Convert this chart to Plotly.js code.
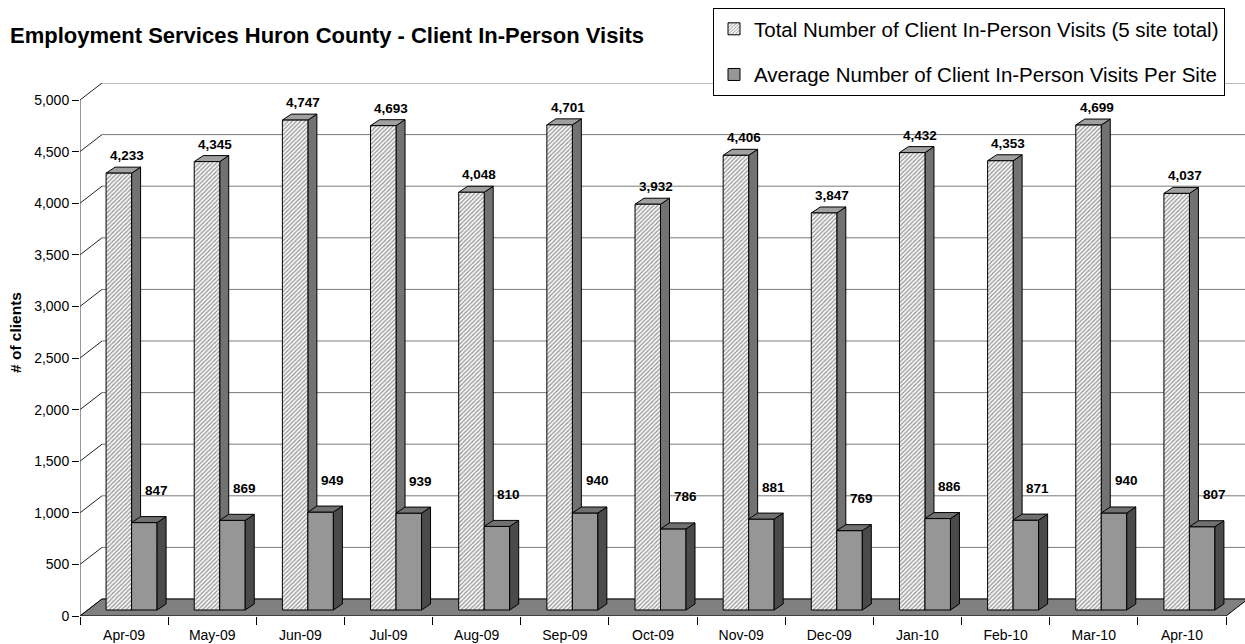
<!DOCTYPE html>
<html><head><meta charset="utf-8">
<script src="https://cdn.plot.ly/plotly-3.0.1.min.js"></script>
<style>html,body{margin:0;padding:0;background:#fff;}#chart{width:1245px;height:644px;}</style>
</head><body><div id="chart"></div>
<script>
const months = ['Apr-09','May-09','Jun-09','Jul-09','Aug-09','Sep-09','Oct-09','Nov-09','Dec-09','Jan-10','Feb-10','Mar-10','Apr-10'];
const totalVisits = [4233,4345,4747,4693,4048,4701,3932,4406,3847,4432,4353,4699,4037];
const avgVisits = [847,869,949,939,810,940,786,881,769,886,871,940,807];
const yTicks = [0,500,1000,1500,2000,2500,3000,3500,4000,4500,5000];
const seriesNames = ['Total Number of Client In-Person Visits (5 site total)','Average Number of Client In-Person Visits Per Site'];
const chartTitle = 'Employment Services Huron County - Client In-Person Visits';
const yTitle = '# of clients';

// ---- layout geometry (pixels) ----
const W = 1245, H = 644, ML = 80, MR = 0, MT = 83, MB = 28;
const FRONT_W = 1146, FRONT_H = 516;
const n = months.length;
const yTop = yTicks[yTicks.length - 1];
const cw = FRONT_W / n;
const ppu = FRONT_H / yTop;
const xMax = -0.5 + (W - ML - MR) / cw;
const yMax = (H - MT - MB) / ppu;
const px2x = p => p / cw, px2y = p => p / ppu;
const BACK_DX = px2x(22), BACK_DY = px2y(17);
const PLANE_DX = px2x(7.5), PLANE_DY = px2y(6);
const DEP_DX = px2x(9), DEP_DY = px2y(6);
const BAR_W = px2x(25.5);
const FONT = 'Liberation Sans, Arial, sans-serif';
const fmt = v => v.toLocaleString('en-US');
const idx = months.map((_, i) => i);
const bounds = idx.map(i => i - 0.5).concat([n - 0.5]);

const shapes = [];
// back wall gridlines and left wall diagonals
yTicks.forEach(v => {
  shapes.push({type:'line', xref:'x', yref:'y', layer:'below', x0:-0.5+BACK_DX, x1:xMax, y0:v+BACK_DY, y1:v+BACK_DY, line:{color:'#7a7a7a', width:1}});
  shapes.push({type:'line', xref:'x', yref:'y', layer:'below', x0:-0.5, x1:-0.5+BACK_DX, y0:v, y1:v+BACK_DY, line:{color:'#222', width:1}});
});
// floor
shapes.push({type:'path', xref:'x', yref:'y', layer:'below',
  path:`M${-0.5},0 L${n-0.5},0 L${n-0.5+BACK_DX},${BACK_DY} L${-0.5+BACK_DX},${BACK_DY} Z`,
  fillcolor:'#808080', line:{color:'#000', width:1}});
// front vertical axis line
shapes.push({type:'line', xref:'x', yref:'y', layer:'below', x0:-0.5, x1:-0.5, y0:0, y1:yTop, line:{color:'#555', width:1.2}});

function faces(vals, offset, sideColor, topColor, layer) {
  vals.forEach((v, i) => {
    const xl = i + offset, xr = xl + BAR_W;
    const y0 = PLANE_DY, y1 = PLANE_DY + v;
    shapes.push({type:'path', xref:'x', yref:'y', layer:layer,
      path:`M${xr},${y0} L${xr},${y1} L${xr+DEP_DX},${y1+DEP_DY} L${xr+DEP_DX},${y0+DEP_DY} Z`,
      fillcolor:sideColor, line:{color:'#000', width:1}});
    shapes.push({type:'path', xref:'x', yref:'y', layer:layer,
      path:`M${xl},${y1} L${xr},${y1} L${xr+DEP_DX},${y1+DEP_DY} L${xl+DEP_DX},${y1+DEP_DY} Z`,
      fillcolor:topColor, line:{color:'#000', width:1}});
  });
}
const offTotal = PLANE_DX - BAR_W, offAvg = PLANE_DX;
faces(totalVisits, offTotal, '#727272', '#a0a0a0', 'below');
faces(avgVisits, offAvg, '#4a4a4a', '#707070', 'above');

const annotations = [];
totalVisits.forEach((v, i) => {
  annotations.push({xref:'x', yref:'y', x:i+offTotal+BAR_W/2, y:v+PLANE_DY+DEP_DY, text:fmt(v),
    showarrow:false, xanchor:'center', yanchor:'bottom', xshift:8, yshift:2,
    font:{family:FONT, size:13.5, color:'#000', weight:'bold'}});
});
avgVisits.forEach((v, i) => {
  annotations.push({xref:'x', yref:'y', x:i+offAvg+BAR_W/2, y:v+PLANE_DY, text:fmt(v),
    showarrow:false, xanchor:'center', yanchor:'middle', xshift:12, yshift:32,
    font:{family:FONT, size:13.5, color:'#000', weight:'bold'}});
});
annotations.push({xref:'paper', yref:'paper', x:0, y:(H - MB - 333) / (H - MT - MB), text:yTitle, textangle:-90,
  showarrow:false, xanchor:'center', yanchor:'middle', xshift:15-ML,
  font:{family:FONT, size:15.5, color:'#000', weight:'bold'}});

const traces = [
  {type:'bar', name:seriesNames[0], legendgroup:'a', x:idx, y:totalVisits, base:PLANE_DY, offset:offTotal, width:BAR_W,
   hoverinfo:'skip',
   marker:{color:'#f2f2f2', pattern:{shape:'/', fgcolor:'#8a8a8a', bgcolor:'#f6f6f6', size:3, solidity:0.35},
           line:{color:'#000', width:1}}},
  {type:'bar', name:seriesNames[1], legendgroup:'b', x:idx, y:avgVisits, base:PLANE_DY, offset:offAvg, width:BAR_W,
   hoverinfo:'skip',
   marker:{color:'#969696', line:{color:'#000', width:1}}}
];

const layout = {
  width:W, height:H, margin:{l:ML, r:MR, t:MT, b:MB, pad:0, autoexpand:false},
  paper_bgcolor:'#fff', plot_bgcolor:'rgba(0,0,0,0)',
  font:{family:FONT, color:'#000'},
  barmode:'overlay',
  title:{text:chartTitle, x:10/W, xref:'container', xanchor:'left', y:1-35/H, yref:'container', yanchor:'middle',
         font:{family:FONT, size:22, color:'#000', weight:'bold'}},
  xaxis:{range:[-0.5, xMax], tickmode:'array', tickvals:idx, ticktext:months, ticks:'outside', ticklen:6,
         tickcolor:'rgba(0,0,0,0)', showgrid:false, zeroline:false, showline:false, automargin:false,
         tickfont:{family:FONT, size:14, color:'#000'},
         minor:{tickmode:'array', tickvals:bounds, ticks:'outside', ticklen:8, tickcolor:'#000', tickwidth:1, showgrid:false},
         fixedrange:true},
  yaxis:{range:[0, yMax], tickmode:'array', tickvals:yTicks, ticktext:yTicks.map(fmt), ticks:'outside', ticklen:7,
         tickcolor:'#000', showgrid:false, zeroline:false, showline:false, automargin:false,
         tickfont:{family:FONT, size:14, color:'#000'}, fixedrange:true},
  legend:{x:713/W, xref:'container', y:1-8/H, yref:'container', xanchor:'left', yanchor:'top',
          bgcolor:'#fff', bordercolor:'#000', borderwidth:1, traceorder:'grouped', tracegroupgap:16,
          font:{family:FONT, size:20.5, color:'#000'}},
  showlegend:true,
  shapes:shapes, annotations:annotations
};
Plotly.newPlot('chart', traces, layout, {displayModeBar:false, staticPlot:true});
</script></body></html>
